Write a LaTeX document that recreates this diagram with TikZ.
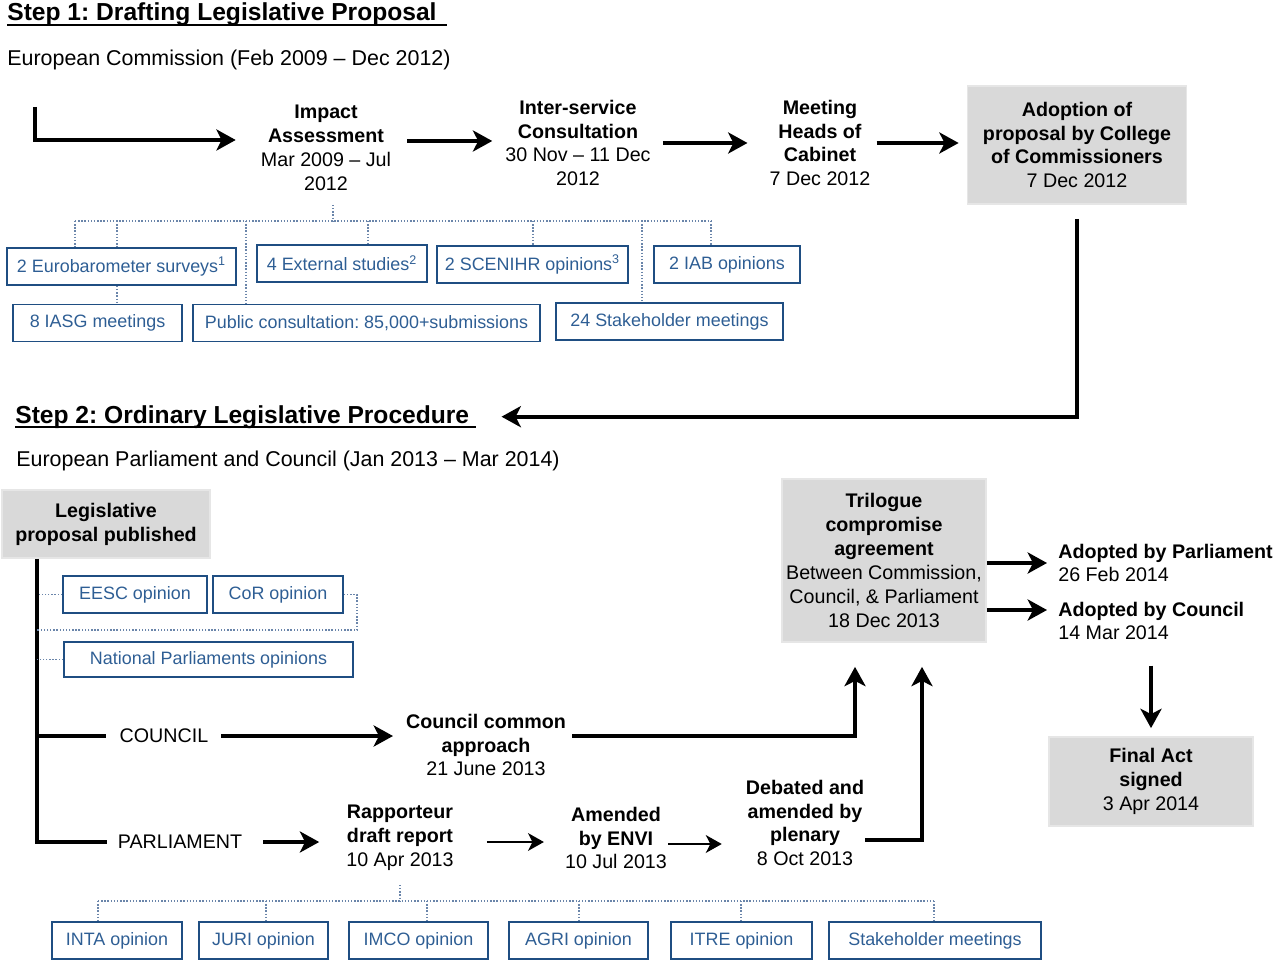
\documentclass[tikz,border=0pt]{standalone}
\usepackage{fontspec}
\setmainfont{Liberation Sans}
\usepackage{xcolor}
\usetikzlibrary{
		calc,
		arrows.meta,
		positioning
	}
\frenchspacing
\definecolor{boxgray}{HTML}{D9D9D9}
\definecolor{boxedge}{HTML}{E6E6E6}
\definecolor{opblue}{HTML}{1F4E82}
\definecolor{optext}{HTML}{2E5E94}
\definecolor{treeblue}{HTML}{6A85AA}
\tikzset{
		>={Stealth[length=11pt,width=12pt,inset=3pt]},
		bigarrow/.style={->, line width=2.2pt},
		thinarrow/.style={-{Stealth[length=9pt,width=10pt,inset=2.5pt]}, line width=1.6pt},
		bigline/.style={line width=2.2pt},
		uline/.style={line width=0.9pt},
		tree/.style={draw=treeblue, line width=0.8pt, densely dotted},
		title/.style={anchor=base west, inner sep=0pt, font=\fontsize{14}{16}\selectfont\bfseries},
		subtitle/.style={anchor=west, inner sep=0pt, font=\fontsize{12.2}{14}\selectfont},
		flow/.style={align=center, font=\fontsize{11.2}{13.6}\selectfont},
		result/.style={flow, align=left, anchor=west, inner sep=0pt},
		greybox/.style={flow, fill=boxgray, draw=boxedge, line width=1pt, inner xsep=1pt},
		opbox/.style={draw=opblue, text=optext, line width=1pt, minimum height=0.74cm, inner xsep=2pt, font=\fontsize{10.2}{12}\selectfont}
	}

\begin{document}
\begin{tikzpicture}[x=0.02cm, y=-0.02cm]
    \useasboundingbox (0,0) rectangle (1280,962);

    % the titles
    \node[title] (s1title) at (7,21) {Step 1: Drafting Legislative Proposal};
    \node[subtitle] (s1sub) at (7,60) {European Commission (Feb 2009 – Dec 2012)};
    \node[title] (s2title) at (15,423) {Step 2: Ordinary Legislative Procedure};
    \node[subtitle] (s2sub) at (16,461) {European Parliament and Council (Jan 2013 – Mar 2014)};
    \draw[uline] ($(s1title.base west)+(0,4)$) -- ($(s1title.base east)+(10,4)$);
    \draw[uline] ($(s2title.base west)+(0,4)$) -- ($(s2title.base east)+(6,4)$);

    % step 1: the drafting steps
    \coordinate (s1start) at (35,107);
    \node[flow] (impact) at (326,148) {\textbf{Impact}\\\textbf{Assessment}\\Mar 2009 – Jul\\2012};
    \node[flow] (inter) at (578,143) {\textbf{Inter-service}\\\textbf{Consultation}\\30 Nov – 11 Dec\\2012};
    \node[flow] (meeting) at (820,143) {\textbf{Meeting}\\\textbf{Heads of}\\\textbf{Cabinet}\\7 Dec 2012};
    \node[greybox, minimum width=4.38cm, minimum height=2.36cm] (adopt) at (1077,145) {\textbf{Adoption of}\\\textbf{proposal by College}\\\textbf{of Commissioners}\\7 Dec 2012};

    % the arrows of step 1
    \draw[bigarrow] (s1start) |- ([xshift=-0.38cm,yshift=0.16cm]impact.west);
    \draw[bigarrow, shorten <=0.2cm, shorten >=0.14cm] ([yshift=0.14cm]impact.east) -- ([yshift=0.14cm]impact.east -| inter.west);
    \draw[bigarrow, shorten <=0.12cm, shorten >=0.32cm] (inter.east) -- (inter.east -| meeting.west);
    \draw[bigarrow, shorten >=0.16cm] (meeting.east) -- (meeting.east -| adopt.west);
    \draw[bigarrow, shorten <=0.28cm, shorten >=0.64cm] (adopt.south) |- (s2title.east);

    % the inputs of the impact assessment
    \node[opbox, minimum width=4.58cm] (eb) at (121.5,266.5) {2 Eurobarometer surveys\textsuperscript{1}};
    \node[opbox, minimum width=3.40cm] (ext) at (342,263.5) {4 External studies\textsuperscript{2}};
    \node[opbox, minimum width=3.82cm] (scen) at (532.5,264.5) {2 SCENIHR opinions\textsuperscript{3}};
    \node[opbox, minimum width=2.92cm] (iab) at (727,264.5) {2 IAB opinions};
    \node[opbox, minimum width=3.38cm] (iasg) at (97.5,323) {8 IASG meetings};
    \node[opbox, minimum width=6.94cm] (pubc) at (366.5,323) {Public consultation: 85,000+submissions};
    \node[opbox, minimum width=4.54cm] (stake1) at (669.5,321.5) {24 Stakeholder meetings};

    % the dotted tree under the impact assessment
    \coordinate (hub1) at (333,221);
    \coordinate (b1) at (75,221);
    \coordinate (b2) at (117,221);
    \coordinate (b3) at (246,221);
    \coordinate (b4) at (368,221);
    \coordinate (b5) at (533,221);
    \coordinate (b6) at (642,221);
    \coordinate (b7) at (711,221);
    \draw[tree] (b1) -- (b7);
    \draw[tree, shorten <=0.16cm] (impact.south -| hub1) -- (hub1);
    \draw[tree] (b1) -- (b1 |- eb.north);
    \draw[tree] (b2) -- (b2 |- eb.north);
    \draw[tree] (eb.south -| b2) -- (b2 |- iasg.north);
    \draw[tree] (b3) -- (b3 |- pubc.north);
    \draw[tree] (b4) -- (b4 |- ext.north);
    \draw[tree] (b5) -- (b5 |- scen.north);
    \draw[tree] (b6) -- (b6 |- stake1.north);
    \draw[tree] (b7) -- (b7 |- iab.north);

    % step 2: the procedure
    \node[greybox, minimum width=4.16cm, minimum height=1.36cm] (legis) at (106,524) {\textbf{Legislative}\\\textbf{proposal published}};
    \coordinate (spine) at (37,560);
    \node[flow] (council) at (164,736) {COUNCIL};
    \node[flow] (parl) at (180,842) {PARLIAMENT};
    \node[flow] (ccommon) at (486,745) {\textbf{Council common}\\\textbf{approach}\\21 June 2013};
    \node[flow] (rapp) at (400,838) {\textbf{Rapporteur}\\\textbf{draft report}\\10 Apr 2013};
    \node[flow] (envi) at (616,838) {\textbf{Amended}\\\textbf{by ENVI}\\10 Jul 2013};
    \node[flow] (debated) at (805,823) {\textbf{Debated and}\\\textbf{amended by}\\\textbf{plenary}\\8 Oct 2013};
    \node[greybox, minimum width=4.08cm, minimum height=3.26cm] (trilogue) at (884,560.5) {\textbf{Trilogue}\\\textbf{compromise}\\\textbf{agreement}\\Between Commission,\\Council, \& Parliament\\18 Dec 2013};
    \node[result] (adparl) at (1058,563) {\textbf{Adopted by Parliament}\\26 Feb 2014};
    \node[result] (adcoun) at (1058,621) {\textbf{Adopted by Council}\\14 Mar 2014};
    \node[greybox, minimum width=4.08cm, minimum height=1.78cm] (final) at (1151,781.5) {\textbf{Final Act}\\\textbf{signed}\\3 Apr 2014};

    % the arrows of step 2
    \draw[bigline, shorten >=0.1cm] (legis.south -| spine) |- (parl.west);
    \draw[bigline, shorten >=0.16cm] (council.west -| spine) -- (council.west);
    \draw[bigarrow, shorten <=0.14cm, shorten >=0.14cm] (council.east) -- (council.east -| ccommon.west);
    \draw[bigarrow, shorten >=0.48cm] ([yshift=0.18cm]ccommon.east) -| ([xshift=-0.58cm]trilogue.south);
    \draw[bigarrow, shorten <=0.3cm, shorten >=0.42cm] (parl.east) -- (parl.east -| rapp.west);
    \draw[thinarrow, shorten <=0.54cm, shorten >=0.3cm] ([yshift=-0.08cm]rapp.east) -- ([yshift=-0.08cm]rapp.east -| envi.west);
    \draw[thinarrow, shorten <=-0.1cm, shorten >=0.36cm] ([yshift=-0.12cm]envi.east) -- ([yshift=-0.12cm]envi.east -| debated.west);
    \draw[bigarrow, shorten <=-0.1cm, shorten >=0.48cm] ([yshift=-0.34cm]debated.east) -| ([xshift=0.76cm]trilogue.south);
    \draw[bigarrow, shorten >=0.22cm] (trilogue.east |- adparl.west) -- (adparl.west);
    \draw[bigarrow, shorten >=0.22cm] ([yshift=0.22cm]adcoun.west -| trilogue.east) -- ([yshift=0.22cm]adcoun.west);
    \draw[bigarrow, shorten <=0.5cm, shorten >=0.16cm] (final.north |- adcoun.south) -- (final.north);

    % the opinions on the proposal
    \node[opbox, minimum width=2.88cm] (eesc) at (135,594.5) {EESC opinion};
    \node[opbox, minimum width=2.60cm] (cor) at (278,594.5) {CoR opinion};
    \node[opbox, minimum width=5.78cm, minimum height=0.70cm] (natp) at (208.5,659.5) {National Parliaments opinions};
    \coordinate (corbend) at (357,630);
    \draw[tree] (eesc.west) -- (eesc.west -| spine);
    \draw[tree] (cor.east) -| (corbend) -- (corbend -| spine);
    \draw[tree] (natp.west) -- (natp.west -| spine);

    % the committee opinions on the draft report
    \node[opbox, minimum width=2.60cm] (inta) at (117,940.5) {INTA opinion};
    \node[opbox, minimum width=2.58cm] (juri) at (263.5,940.5) {JURI opinion};
    \node[opbox, minimum width=2.78cm] (imco) at (418.5,940.5) {IMCO opinion};
    \node[opbox, minimum width=2.78cm] (agri) at (578.5,940.5) {AGRI opinion};
    \node[opbox, minimum width=2.82cm] (itre) at (741.5,940.5) {ITRE opinion};
    \node[opbox, minimum width=4.24cm] (stake2) at (935,940.5) {Stakeholder meetings};

    % the dotted tree under the draft report
    \coordinate (hub2) at (400,901);
    \coordinate (c1) at (98,901);
    \coordinate (c2) at (266,901);
    \coordinate (c3) at (427,901);
    \coordinate (c4) at (579,901);
    \coordinate (c5) at (741,901);
    \coordinate (c6) at (934,901);
    \draw[tree] (c1) -- (c6);
    \draw[tree, shorten <=0.16cm] (rapp.south) -- (hub2);
    \draw[tree] (c1) -- (c1 |- inta.north);
    \draw[tree] (c2) -- (c2 |- juri.north);
    \draw[tree] (c3) -- (c3 |- imco.north);
    \draw[tree] (c4) -- (c4 |- agri.north);
    \draw[tree] (c5) -- (c5 |- itre.north);
    \draw[tree] (c6) -- (c6 |- stake2.north);

\end{tikzpicture}
\end{document}
